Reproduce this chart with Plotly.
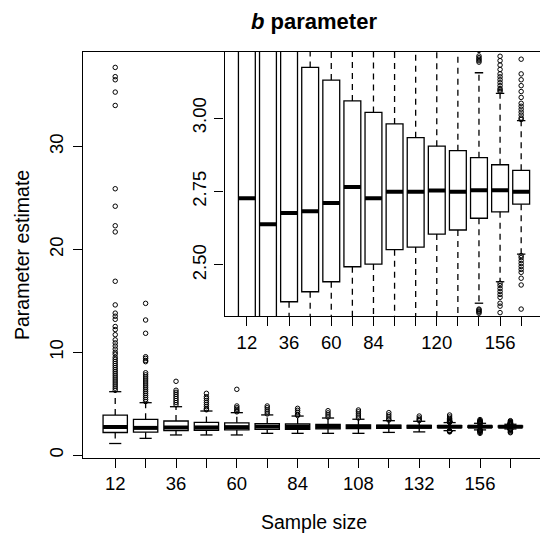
import plotly.graph_objects as go

# ---------------- data ----------------
sample_sizes = [12, 24, 36, 48, 60, 72, 84, 96, 108, 120, 132, 144, 156, 168]
positions = list(range(1, len(sample_sizes) + 1))

median = [2.727, 2.639, 2.677, 2.683, 2.711, 2.765, 2.727, 2.749, 2.749, 2.753, 2.749, 2.754, 2.754, 2.749]
q1 = [2.19, 2.22, 2.375, 2.409, 2.443, 2.494, 2.503, 2.552, 2.561, 2.605, 2.619, 2.659, 2.681, 2.707]
q3 = [3.89, 3.47, 3.31, 3.172, 3.129, 3.058, 3.019, 2.980, 2.933, 2.904, 2.889, 2.865, 2.841, 2.822]
lower_whisker = [1.12, 1.62, 1.95, 1.95, 1.95, 2.11, 2.11, 2.11, 2.11, 2.20, 2.25, 2.37, 2.443, 2.537]
upper_whisker = [6.16, 5.09, 4.70, 4.28, 4.12, 3.90, 3.79, 3.60, 3.48, 3.34, 3.28, 3.154, 3.084, 2.991]

upper_outliers = [
    [37.7, 36.8, 36.5, 35.3, 34.0, 25.9, 24.2, 22.3, 21.7, 16.9, 14.6, 13.8, 13.5, 13.2, 12.5, 12.2,
     11.7, 11.2, 10.9, 10.6, 10.3, 10.0, 9.8, 9.5, 9.3, 9.1, 8.9, 8.7, 8.5, 8.3, 8.1, 7.9, 7.7, 7.5,
     7.3, 7.1, 6.9, 6.7, 6.5, 6.3],
    [14.75, 13.13, 11.84, 9.56, 9.4, 9.2, 9.08, 8.0, 7.8, 7.6, 7.4, 7.2, 7.0, 6.8, 6.6, 6.4, 6.2,
     6.0, 5.8, 5.6, 5.4, 5.2],
    [7.17, 6.3, 6.1, 5.9, 5.7, 5.5, 5.3, 5.1, 4.9],
    [6.0, 5.67, 5.5, 5.3, 5.1, 4.9, 4.7, 4.5, 4.4],
    [6.39, 4.77, 4.6, 4.45, 4.3, 4.2],
    [4.77, 4.6, 4.4, 4.2, 4.0],
    [4.54, 4.35, 4.15, 3.95, 3.85],
    [4.31, 4.1, 3.9, 3.7],
    [4.38, 4.2, 4.0, 3.8, 3.6],
    [4.12, 3.9, 3.7, 3.5, 3.4],
    [3.79, 3.6, 3.45, 3.35],
    [3.89, 3.7, 3.55, 3.45, 3.35, 3.3, 3.26, 3.23, 3.211, 3.205, 3.20, 3.195, 3.19],
    [3.45, 3.35, 3.3, 3.25, 3.21, 3.195, 3.18, 3.165, 3.15, 3.14, 3.13, 3.12, 3.11, 3.10, 3.095, 3.09],
    [3.34, 3.25, 3.2, 3.15, 3.13, 3.11, 3.09, 3.07, 3.05, 3.04, 3.03, 3.02, 3.01, 3.0, 2.995],
]
lower_outliers = [
    [], [], [], [], [], [], [], [], [], [], [],
    [2.35, 2.347, 2.343, 2.34, 2.336, 2.3, 2.25],
    [2.438, 2.43, 2.42, 2.41, 2.40, 2.39, 2.37, 2.36, 2.338, 2.3, 2.2, 2.11],
    [2.532, 2.525, 2.515, 2.505, 2.495, 2.485, 2.475, 2.455, 2.432, 2.35, 2.25, 2.17],
]

main_tick_labels = ["12", "", "36", "", "60", "", "84", "", "108", "", "132", "", "156", ""]
inset_tick_labels = ["12", "", "36", "", "60", "", "84", "", "", "120", "", "", "156", ""]
main_y_ticks = [0, 10, 20, 30]
inset_y_ticks = [2.50, 2.75, 3.00]
inset_y_labels = ["2.50", "2.75", "3.00"]

title_text = "<b><i>b</i> parameter</b>"
x_title = "Sample size"
y_title = "Parameter estimate"

# ---------------- figure ----------------
W, H = 540, 539
FONT = "Liberation Sans, Arial, Helvetica, sans-serif"
LW = 1.3
BOX_W = 0.8
CAP_W = 0.4

fig = go.Figure()


def add_boxplot(xa, ya):
    wx, wy = [], []
    for p, a, b, lo, hi in zip(positions, q1, q3, lower_whisker, upper_whisker):
        wx += [p, p, None, p, p, None]
        wy += [b, hi, None, a, lo, None]
    fig.add_trace(go.Scatter(x=wx, y=wy, mode="lines", xaxis=xa, yaxis=ya,
                             line=dict(color="black", width=LW, dash="6px,5px"),
                             hoverinfo="skip", showlegend=False))
    fig.add_trace(go.Box(x=positions, q1=q1, median=median, q3=q3,
                         lowerfence=q1, upperfence=q3, width=BOX_W,
                         whiskerwidth=0, boxpoints=False, fillcolor="white",
                         line=dict(color="black", width=LW),
                         xaxis=xa, yaxis=ya, showlegend=False))
    mx, my = [], []
    for p, m in zip(positions, median):
        mx += [p - BOX_W / 2, p + BOX_W / 2, None]
        my += [m, m, None]
    fig.add_trace(go.Scatter(x=mx, y=my, mode="lines", xaxis=xa, yaxis=ya,
                             line=dict(color="black", width=4),
                             hoverinfo="skip", showlegend=False))
    cx, cy = [], []
    for p, lo, hi in zip(positions, lower_whisker, upper_whisker):
        cx += [p - CAP_W / 2, p + CAP_W / 2, None, p - CAP_W / 2, p + CAP_W / 2, None]
        cy += [hi, hi, None, lo, lo, None]
    fig.add_trace(go.Scatter(x=cx, y=cy, mode="lines", xaxis=xa, yaxis=ya,
                             line=dict(color="black", width=LW),
                             hoverinfo="skip", showlegend=False))
    ox, oy = [], []
    for p, ups, lows in zip(positions, upper_outliers, lower_outliers):
        for v in ups + lows:
            ox.append(p)
            oy.append(v)
    fig.add_trace(go.Scatter(x=ox, y=oy, mode="markers", xaxis=xa, yaxis=ya,
                             marker=dict(symbol="circle-open", size=4.5, color="black",
                                         line=dict(width=1, color="black")),
                             hoverinfo="skip", showlegend=False))


add_boxplot("x", "y")
add_boxplot("x2", "y2")

# pixel geometry
main_left, main_top, main_bottom = 83, 52, 458
inset_left, inset_bottom = 224.5, 316
main_step = 30.4
inset_step = 21.1


def px_x(v):
    return v / W


def px_y(v):
    return 1 - v / H


axis_common = dict(showgrid=False, zeroline=False, showline=True, linecolor="black",
                   linewidth=LW, ticks="outside", ticklen=9, tickwidth=LW, tickcolor="black",
                   tickfont=dict(family=FONT, size=18.5, color="black"))

fig.update_layout(
    width=W, height=H,
    margin=dict(l=0, r=0, t=0, b=0, autoexpand=False),
    paper_bgcolor="white", plot_bgcolor="white",
    font=dict(family=FONT, color="black"),
    showlegend=False,
    xaxis=dict(domain=[px_x(main_left), 1.0], anchor="y",
               range=[-0.06, -0.06 + (W - main_left) / main_step],
               tickmode="array", tickvals=positions, ticktext=main_tick_labels,
               mirror=True, ticklabelstandoff=0, **axis_common),
    yaxis=dict(domain=[px_y(main_bottom), px_y(main_top)], anchor="x",
               range=[-0.29, 39.2], tickmode="array", tickvals=main_y_ticks,
               tickangle=-90, ticklabelstandoff=2, **axis_common),
    xaxis2=dict(domain=[px_x(inset_left), 1.0], anchor="y2",
                range=[-0.06, -0.06 + (W - inset_left) / inset_step],
                tickmode="array", tickvals=positions, ticktext=inset_tick_labels,
                mirror=True, ticklabelstandoff=1, **axis_common),
    yaxis2=dict(domain=[px_y(inset_bottom), px_y(main_top)], anchor="x2",
                range=[2.3265, 3.2245], tickmode="array", tickvals=inset_y_ticks,
                ticktext=inset_y_labels, tickangle=-90, ticklabelstandoff=1,
                **axis_common),
)

fig.add_annotation(text=title_text, x=px_x(314), y=px_y(21), xref="paper", yref="paper",
                   showarrow=False, xanchor="center", yanchor="middle",
                   font=dict(family=FONT, size=22, color="black"))
fig.add_annotation(text=x_title, x=px_x(314), y=px_y(522), xref="paper", yref="paper",
                   showarrow=False, xanchor="center", yanchor="middle",
                   font=dict(family=FONT, size=19.5, color="black"))
fig.add_annotation(text=y_title, x=px_x(22), y=px_y(255), xref="paper", yref="paper",
                   showarrow=False, xanchor="center", yanchor="middle", textangle=-90,
                   font=dict(family=FONT, size=19.5, color="black"))

fig.write_html("out.html")
